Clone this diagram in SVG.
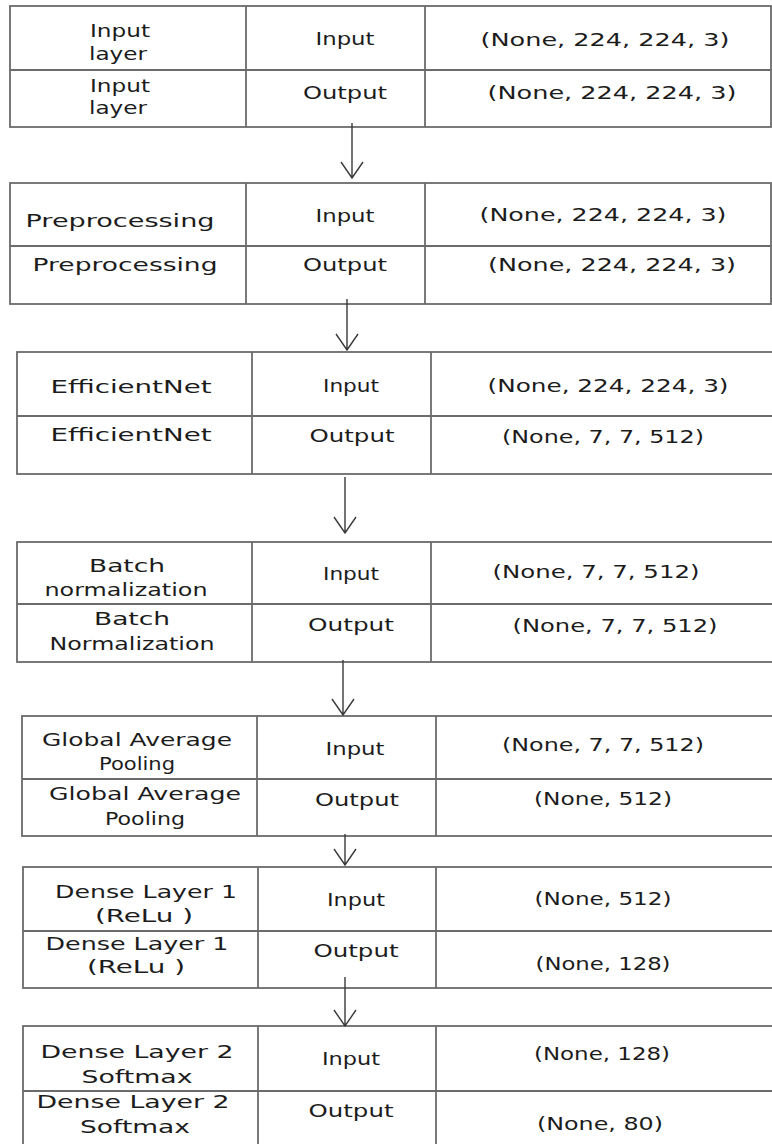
<svg xmlns="http://www.w3.org/2000/svg" width="772" height="1144" viewBox="0 0 772 1144">
<style>
.bx{fill:none;stroke:#6b6b6b;stroke-width:1.8}
.ln{stroke:#6b6b6b;stroke-width:1.8}
.t{font-family:"DejaVu Sans","Liberation Sans",Arial,sans-serif;font-size:18px;fill:#1c1c1c;text-anchor:middle}
.c{stroke:#3a3a3a;stroke-width:1.4;fill:none}
</style>
<rect width="772" height="1144" fill="#ffffff"/>
<g id="input-layer">
<rect class="bx" x="10" y="6" width="761" height="121"/>
<line class="ln" x1="10" y1="70" x2="771" y2="70"/>
<line class="ln" x1="246" y1="6" x2="246" y2="127"/>
<line class="ln" x1="425" y1="6" x2="425" y2="127"/>
<text class="t" x="120" y="37" textLength="60" lengthAdjust="spacingAndGlyphs">Input</text>
<text class="t" x="118" y="60" textLength="58" lengthAdjust="spacingAndGlyphs">layer</text>
<text class="t" x="345" y="45" textLength="59" lengthAdjust="spacingAndGlyphs">Input</text>
<text class="t" x="605" y="46" textLength="249" lengthAdjust="spacingAndGlyphs">(None, 224, 224, 3)</text>
<text class="t" x="120" y="92" textLength="60" lengthAdjust="spacingAndGlyphs">Input</text>
<text class="t" x="118" y="114" textLength="58" lengthAdjust="spacingAndGlyphs">layer</text>
<text class="t" x="345" y="99" textLength="84" lengthAdjust="spacingAndGlyphs">Output</text>
<text class="t" x="612" y="99" textLength="249" lengthAdjust="spacingAndGlyphs">(None, 224, 224, 3)</text>
</g>
<g id="preprocessing">
<rect class="bx" x="10" y="183" width="761" height="121"/>
<line class="ln" x1="10" y1="246" x2="771" y2="246"/>
<line class="ln" x1="246" y1="183" x2="246" y2="304"/>
<line class="ln" x1="425" y1="183" x2="425" y2="304"/>
<text class="t" x="120" y="227" textLength="189" lengthAdjust="spacingAndGlyphs">Preprocessing</text>
<text class="t" x="345" y="222" textLength="59" lengthAdjust="spacingAndGlyphs">Input</text>
<text class="t" x="603" y="221" textLength="247" lengthAdjust="spacingAndGlyphs">(None, 224, 224, 3)</text>
<text class="t" x="125" y="271" textLength="185" lengthAdjust="spacingAndGlyphs">Preprocessing</text>
<text class="t" x="345" y="271" textLength="84" lengthAdjust="spacingAndGlyphs">Output</text>
<text class="t" x="612" y="271" textLength="248" lengthAdjust="spacingAndGlyphs">(None, 224, 224, 3)</text>
</g>
<g id="efficientnet">
<rect class="bx" x="17" y="352" width="760" height="122"/>
<line class="ln" x1="17" y1="416" x2="777" y2="416"/>
<line class="ln" x1="252" y1="352" x2="252" y2="474"/>
<line class="ln" x1="431" y1="352" x2="431" y2="474"/>
<text class="t" x="131" y="393" textLength="161" lengthAdjust="spacingAndGlyphs">EfficientNet</text>
<text class="t" x="351" y="392" textLength="56" lengthAdjust="spacingAndGlyphs">Input</text>
<text class="t" x="608" y="392" textLength="241" lengthAdjust="spacingAndGlyphs">(None, 224, 224, 3)</text>
<text class="t" x="131" y="441" textLength="161" lengthAdjust="spacingAndGlyphs">EfficientNet</text>
<text class="t" x="352" y="442" textLength="85" lengthAdjust="spacingAndGlyphs">Output</text>
<text class="t" x="603" y="443" textLength="202" lengthAdjust="spacingAndGlyphs">(None, 7, 7, 512)</text>
</g>
<g id="batch-normalization">
<rect class="bx" x="17" y="542" width="760" height="120"/>
<line class="ln" x1="17" y1="604" x2="777" y2="604"/>
<line class="ln" x1="252" y1="542" x2="252" y2="662"/>
<line class="ln" x1="431" y1="542" x2="431" y2="662"/>
<text class="t" x="127" y="572" textLength="76" lengthAdjust="spacingAndGlyphs">Batch</text>
<text class="t" x="126" y="596" textLength="163" lengthAdjust="spacingAndGlyphs">normalization</text>
<text class="t" x="351" y="580" textLength="56" lengthAdjust="spacingAndGlyphs">Input</text>
<text class="t" x="596" y="578" textLength="207" lengthAdjust="spacingAndGlyphs">(None, 7, 7, 512)</text>
<text class="t" x="132" y="625" textLength="76" lengthAdjust="spacingAndGlyphs">Batch</text>
<text class="t" x="132" y="650" textLength="165" lengthAdjust="spacingAndGlyphs">Normalization</text>
<text class="t" x="351" y="631" textLength="86" lengthAdjust="spacingAndGlyphs">Output</text>
<text class="t" x="615" y="632" textLength="205" lengthAdjust="spacingAndGlyphs">(None, 7, 7, 512)</text>
</g>
<g id="global-average-pooling">
<rect class="bx" x="22" y="716" width="755" height="120"/>
<line class="ln" x1="22" y1="779" x2="777" y2="779"/>
<line class="ln" x1="257" y1="716" x2="257" y2="836"/>
<line class="ln" x1="436" y1="716" x2="436" y2="836"/>
<text class="t" x="137" y="746" textLength="190" lengthAdjust="spacingAndGlyphs">Global Average</text>
<text class="t" x="137" y="770" textLength="76" lengthAdjust="spacingAndGlyphs">Pooling</text>
<text class="t" x="355" y="755" textLength="59" lengthAdjust="spacingAndGlyphs">Input</text>
<text class="t" x="603" y="751" textLength="202" lengthAdjust="spacingAndGlyphs">(None, 7, 7, 512)</text>
<text class="t" x="145" y="800" textLength="192" lengthAdjust="spacingAndGlyphs">Global Average</text>
<text class="t" x="145" y="825" textLength="80" lengthAdjust="spacingAndGlyphs">Pooling</text>
<text class="t" x="357" y="806" textLength="84" lengthAdjust="spacingAndGlyphs">Output</text>
<text class="t" x="603" y="805" textLength="138" lengthAdjust="spacingAndGlyphs">(None, 512)</text>
</g>
<g id="dense-layer-1">
<rect class="bx" x="23" y="867" width="754" height="121"/>
<line class="ln" x1="23" y1="931" x2="777" y2="931"/>
<line class="ln" x1="258" y1="867" x2="258" y2="988"/>
<line class="ln" x1="436" y1="867" x2="436" y2="988"/>
<text class="t" x="146" y="898" textLength="182" lengthAdjust="spacingAndGlyphs">Dense Layer 1</text>
<text class="t" x="144" y="922" textLength="98" lengthAdjust="spacingAndGlyphs">(ReLu )</text>
<text class="t" x="356" y="906" textLength="58" lengthAdjust="spacingAndGlyphs">Input</text>
<text class="t" x="603" y="905" textLength="137" lengthAdjust="spacingAndGlyphs">(None, 512)</text>
<text class="t" x="137" y="950" textLength="183" lengthAdjust="spacingAndGlyphs">Dense Layer 1</text>
<text class="t" x="136" y="973" textLength="98" lengthAdjust="spacingAndGlyphs">(ReLu )</text>
<text class="t" x="356" y="957" textLength="85" lengthAdjust="spacingAndGlyphs">Output</text>
<text class="t" x="603" y="970" textLength="135" lengthAdjust="spacingAndGlyphs">(None, 128)</text>
</g>
<g id="dense-layer-2">
<rect class="bx" x="23" y="1026" width="754" height="124"/>
<line class="ln" x1="23" y1="1091" x2="777" y2="1091"/>
<line class="ln" x1="258" y1="1026" x2="258" y2="1150"/>
<line class="ln" x1="436" y1="1026" x2="436" y2="1150"/>
<text class="t" x="137" y="1058" textLength="193" lengthAdjust="spacingAndGlyphs">Dense Layer 2</text>
<text class="t" x="137" y="1083" textLength="111" lengthAdjust="spacingAndGlyphs">Softmax</text>
<text class="t" x="351" y="1065" textLength="58" lengthAdjust="spacingAndGlyphs">Input</text>
<text class="t" x="602" y="1060" textLength="136" lengthAdjust="spacingAndGlyphs">(None, 128)</text>
<text class="t" x="133" y="1108" textLength="193" lengthAdjust="spacingAndGlyphs">Dense Layer 2</text>
<text class="t" x="135" y="1133" textLength="110" lengthAdjust="spacingAndGlyphs">Softmax</text>
<text class="t" x="351" y="1117" textLength="85" lengthAdjust="spacingAndGlyphs">Output</text>
<text class="t" x="600" y="1130" textLength="126" lengthAdjust="spacingAndGlyphs">(None, 80)</text>
</g>
<g id="connectors">
<path class="c" d="M352 123V178M341 162L352 178L363 162"/>
<path class="c" d="M347 299V350M336 334L347 350L358 334"/>
<path class="c" d="M345 477V533M334 517L345 533L356 517"/>
<path class="c" d="M343 660V715M332 699L343 715L354 699"/>
<path class="c" d="M345 834V865M334 849L345 865L356 849"/>
<path class="c" d="M345 977V1026M334 1010L345 1026L356 1010"/>
</g>
</svg>
